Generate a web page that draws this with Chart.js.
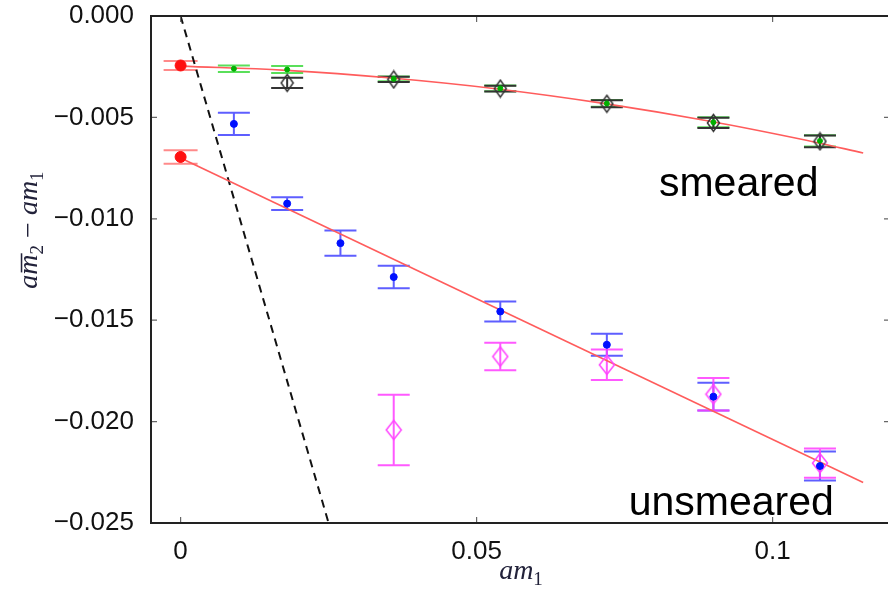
<!DOCTYPE html>
<html>
<head>
<meta charset="utf-8">
<script src="https://cdn.jsdelivr.net/npm/chart.js@4"></script>
<style>
  html, body { margin:0; padding:0; background:#fff; overflow:hidden; }
  #wrap { width:888px; height:590px; overflow:hidden; }
</style>
</head>
<body>
<div id="wrap"><canvas id="c" width="900" height="590"></canvas></div>
<script>
/* ---------- data ---------- */
const X_TICKS = [0, 0.05, 0.1];
const Y_TICKS = [0, -0.005, -0.010, -0.015, -0.020, -0.025];

// extrapolated values at am1 = 0 (smeared, unsmeared)
const chiralX   = [0, 0];
const chiralY   = [-0.00244, -0.00695];
const chiralErr = [0.00022, 0.00033];

// smeared, green dots
const smearX   = [0.009, 0.018, 0.036, 0.054, 0.072, 0.090, 0.108];
const smearY   = [-0.00260, -0.00264, -0.00310, -0.00357, -0.00431, -0.00524, -0.00616];
const smearErr = [0.00016, 0.00017, 0.00012, 0.00014, 0.00017, 0.00025, 0.00028];

// smeared, black diamonds
const smearDX   = [0.018, 0.036, 0.054, 0.072, 0.090, 0.108];
const smearDY   = [-0.00330, -0.00313, -0.00358, -0.00433, -0.00527, -0.00618];
const smearDErr = [0.00025, 0.00013, 0.00014, 0.00017, 0.00025, 0.00029];

// unsmeared, blue dots
const unsmX   = [0.009, 0.018, 0.027, 0.036, 0.054, 0.072, 0.090, 0.108];
const unsmY   = [-0.00532, -0.00925, -0.01120, -0.01287, -0.01457, -0.01621, -0.01877, -0.02219];
const unsmErr = [0.00055, 0.00031, 0.00062, 0.00056, 0.00049, 0.00054, 0.00068, 0.00072];

// unsmeared, magenta diamonds
const unsmDX   = [0.036, 0.054, 0.072, 0.090, 0.108];
const unsmDY   = [-0.02041, -0.01679, -0.01720, -0.01865, -0.02205];
const unsmDErr = [0.00174, 0.00068, 0.00075, 0.00080, 0.00072];

// fit curves
const fitSmX = [0, 0.0178, 0.0356, 0.0536, 0.0714, 0.0892, 0.1070, 0.1153];
const fitSmY = [-0.00247, -0.00268, -0.00306, -0.00360, -0.00431, -0.00518, -0.00621, -0.00676];
const fitUnX = [0, 0.1153];
const fitUnY = [-0.00700, -0.02300];

// dashed reference line
const refX = [0, 0.025];
const refY = [0, -0.025];

const pts = (xs, ys) => xs.map((x, i) => ({ x, y: ys[i] }));

/* little diamond sprite (slightly taller than wide) */
function diamond(w, h, color, lw) {
  const cv = document.createElement('canvas');
  cv.width = w + lw * 2; cv.height = h + lw * 2;
  const c = cv.getContext('2d');
  const cx = cv.width / 2, cy = cv.height / 2;
  c.strokeStyle = color; c.lineWidth = lw;
  c.beginPath();
  c.moveTo(cx, cy - h / 2); c.lineTo(cx + w / 2, cy);
  c.lineTo(cx, cy + h / 2); c.lineTo(cx - w / 2, cy);
  c.closePath(); c.stroke();
  return cv;
}

/* ---------- plugins ---------- */
const errorBars = {
  id: 'errorBars',
  beforeDatasetsDraw(chart) {
    const { ctx, scales: { x, y } } = chart;
    ctx.save();
    chart.data.datasets.forEach(ds => {
      if (!ds.errors) return;
      ctx.strokeStyle = ds.errorColor;
      ctx.lineWidth = 2;
      const w = ds.capHalf || 16;
      ds.data.forEach((p, j) => {
        const px = x.getPixelForValue(p.x);
        const top = y.getPixelForValue(p.y + ds.errors[j]);
        const bot = y.getPixelForValue(p.y - ds.errors[j]);
        ctx.beginPath();
        ctx.moveTo(px, top); ctx.lineTo(px, bot);
        ctx.moveTo(px - w, top); ctx.lineTo(px + w, top);
        ctx.moveTo(px - w, bot); ctx.lineTo(px + w, bot);
        ctx.stroke();
      });
    });
    ctx.restore();
  }
};

// italic math label drawn piece by piece: subscripts, overline
function richText(ctx, parts, size, draw) {
  let cx = 0;
  parts.forEach(p => {
    const fs = p.sub ? size * 0.68 : size;
    ctx.font = `${p.it ? 'italic ' : ''}${fs}px "Liberation Serif", serif`;
    const w = ctx.measureText(p.t).width;
    if (draw) {
      const dy = p.sub ? size * 0.22 : 0;
      ctx.fillText(p.t, cx, dy);
      if (p.bar) {
        ctx.fillRect(cx + size * 0.08, -size * 0.58, w - size * 0.04, size * 0.055);
      }
    }
    cx += w;
  });
  return cx;
}

const frame = {
  id: 'frame',
  afterDraw(chart) {
    const { ctx, chartArea: a, scales: { x, y } } = chart;
    ctx.save();
    // inward ticks on all four sides
    ctx.strokeStyle = '#666'; ctx.lineWidth = 1.2;
    ctx.beginPath();
    Y_TICKS.forEach(v => {
      const py = y.getPixelForValue(v);
      ctx.moveTo(a.left, py); ctx.lineTo(a.left + 6, py);
      ctx.moveTo(a.right, py); ctx.lineTo(a.right - 7, py);
    });
    X_TICKS.forEach(v => {
      const px = x.getPixelForValue(v);
      ctx.moveTo(px, a.bottom); ctx.lineTo(px, a.bottom - 6);
      ctx.moveTo(px, a.top); ctx.lineTo(px, a.top + 6);
    });
    ctx.stroke();
    // box
    ctx.strokeStyle = '#222'; ctx.lineWidth = 2;
    ctx.strokeRect(a.left, a.top, a.right - a.left, a.bottom - a.top);

    // curve labels
    ctx.fillStyle = '#000';
    ctx.font = '41px "Liberation Sans", Arial, sans-serif';
    ctx.textBaseline = 'alphabetic';
    ctx.fillText('smeared', x.getPixelForValue(0.0808), y.getPixelForValue(-0.00889));
    ctx.fillText('unsmeared', x.getPixelForValue(0.0757), y.getPixelForValue(-0.0246));

    // axis titles
    ctx.fillStyle = '#22223a';
    const xt = [{ t: 'am', it: true }, { t: '1', sub: true }];
    const xw = richText(ctx, xt, 28, false);
    ctx.save();
    ctx.translate((a.left + a.right) / 2 - xw / 2, 579);
    richText(ctx, xt, 28, true);
    ctx.restore();

    const yt = [
      { t: 'a', it: true }, { t: 'm', it: true, bar: true }, { t: '2', sub: true },
      { t: ' \u2212 ' }, { t: 'am', it: true }, { t: '1', sub: true }
    ];
    const yw = richText(ctx, yt, 28, false);
    ctx.save();
    ctx.translate(37, 230);
    ctx.rotate(-Math.PI / 2);
    ctx.translate(-yw / 2, 0);
    richText(ctx, yt, 28, true);
    ctx.restore();

    ctx.restore();
  }
};

/* ---------- chart ---------- */
const tickFont = { family: '"Liberation Sans", Arial, sans-serif', size: 26 };

new Chart(document.getElementById('c'), {
  type: 'scatter',
  data: {
    datasets: [
      { label: 'chiral', data: pts(chiralX, chiralY), errors: chiralErr,
        errorColor: '#ff8a8a', capHalf: 17,
        pointRadius: 5.5, backgroundColor: '#ff1010', borderColor: '#ff1010' },
      { label: 'smeared', data: pts(smearX, smearY), errors: smearErr,
        errorColor: 'rgba(20,210,20,0.7)', capHalf: 16,
        pointRadius: 2.5, backgroundColor: '#00b000', borderColor: '#00b000' },
      { label: 'smeared diamonds', data: pts(smearDX, smearDY), errors: smearDErr,
        errorColor: '#333', capHalf: 16,
        pointStyle: diamond(12, 17, '#333', 1.5), pointRadius: 7 },
      { label: 'unsmeared', data: pts(unsmX, unsmY), errors: unsmErr,
        errorColor: 'rgba(40,40,255,0.75)', capHalf: 16,
        pointRadius: 3.5, backgroundColor: '#0010ff', borderColor: '#0010ff' },
      { label: 'unsmeared diamonds', data: pts(unsmDX, unsmDY), errors: unsmDErr,
        errorColor: 'rgba(255,60,255,0.85)', capHalf: 16,
        pointStyle: diamond(15, 19, '#ff44ff', 1.5), pointRadius: 8 },
      { type: 'line', label: 'fit smeared', data: pts(fitSmX, fitSmY),
        borderColor: '#ff5c5c', borderWidth: 1.6, pointRadius: 0, tension: 0.4, fill: false },
      { type: 'line', label: 'fit unsmeared', data: pts(fitUnX, fitUnY),
        borderColor: '#ff5c5c', borderWidth: 1.6, pointRadius: 0, fill: false },
      { type: 'line', label: 'reference', data: pts(refX, refY),
        borderColor: '#111', borderWidth: 2, borderDash: [8, 6], pointRadius: 0, fill: false }
    ]
  },
  options: {
    responsive: false,
    animation: false,
    devicePixelRatio: 1,
    layout: { padding: { top: 16, right: 5, left: 0, bottom: 0 } },
    plugins: { legend: { display: false }, tooltip: { enabled: false } },
    scales: {
      x: {
        type: 'linear', min: -0.005, max: 0.12,
        grid: { display: false }, border: { display: false },
        afterBuildTicks: s => { s.ticks = X_TICKS.map(v => ({ value: v })); },
        afterFit: s => { s.height = 67; s.paddingLeft = 0; s.paddingRight = 0; },
        ticks: { font: tickFont, color: '#111', padding: 5, maxRotation: 0,
                 callback: v => String(v) }
      },
      y: {
        type: 'linear', min: -0.025, max: 0,
        grid: { display: false }, border: { display: false },
        afterBuildTicks: s => { s.ticks = Y_TICKS.map(v => ({ value: v })); },
        afterFit: s => { s.width = 151; s.paddingTop = 0; s.paddingBottom = 0; },
        ticks: { font: tickFont, color: '#111', padding: 9,
                 callback: v => (Math.abs(v) < 1e-9 ? '0.000' : '\u2212' + Math.abs(v).toFixed(3)) }
      }
    }
  },
  plugins: [errorBars, frame]
});
</script>
</body>
</html>
